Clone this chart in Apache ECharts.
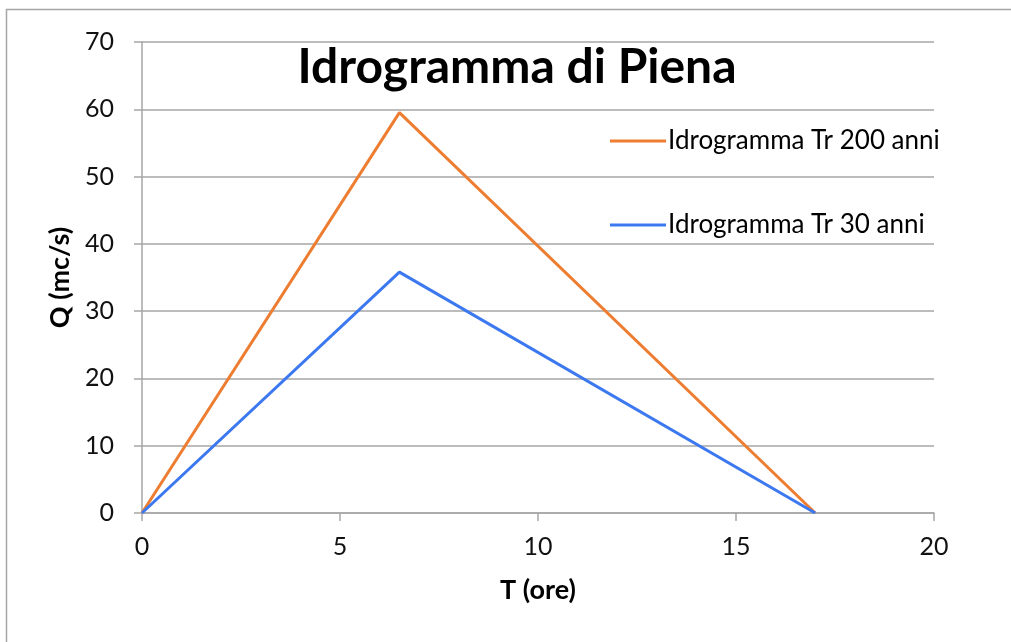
<!DOCTYPE html>
<html><head><meta charset="utf-8">
<script src="https://cdn.jsdelivr.net/npm/echarts@6/dist/echarts.min.js"></script>
<style>html,body{margin:0;padding:0;background:#fff}#c{width:1011px;height:642px}</style>
</head><body><div id="c"></div>
<script>
const tOre = [0, 6.5, 17];
const q200 = [0, 59.5, 0];
const q30 = [0, 35.8, 0];
const seriesNames = ['Idrogramma Tr 200 anni', 'Idrogramma Tr 30 anni'];
const titleText = 'Idrogramma di Piena';

const font = "Lato, 'Open Sans', sans-serif";
const chart = echarts.init(document.getElementById('c'));
chart.setOption({
  backgroundColor: '#fff',
  animation: false,
  graphic: [{type:'rect', shape:{x:6.5,y:9.5,width:1100,height:700}, style:{fill:'none', stroke:'#a6a6a6', lineWidth:1.5}, z:-1}],
  title: {text: titleText, left: 512, top: 39, textAlign: 'center',
    textStyle: {fontFamily: font, fontSize: 48, fontWeight: 'bold', color: '#000'}},
  legend: {orient:'vertical', left: 605, top: 123, itemGap: 58, itemWidth: 56, itemHeight: 3,
    textStyle:{fontFamily: font, fontSize: 26, color:'#000', padding:[0,0,0,-3]},
    data: seriesNames.map(n=>({name:n, icon:'rect'}))},
  grid: {left:142, right:77, top:42, bottom:129},
  xAxis: {type:'value', min:0, max:20, interval:5,
    name:'T (ore)', nameLocation:'middle', nameGap:64,
    nameTextStyle:{fontFamily:font, fontSize:27, fontWeight:'bold', color:'#000'},
    axisLine:{show:true, lineStyle:{color:'#a6a6a6', width:1.5}},
    axisTick:{show:true, inside:false, length:8, lineStyle:{color:'#a6a6a6', width:1.5}},
    axisLabel:{fontFamily:font, fontSize:25, color:'#111', margin:21},
    splitLine:{show:false}},
  yAxis: {type:'value', min:0, max:70, interval:10,
    name:'Q (mc/s)', nameLocation:'middle', nameGap:67, nameRotate:90,
    nameTextStyle:{fontFamily:font, fontSize:27, fontWeight:'bold', color:'#000'},
    axisLine:{show:true, lineStyle:{color:'#a6a6a6', width:1.5}},
    axisTick:{show:true, inside:false, length:8, lineStyle:{color:'#a6a6a6', width:1.5}},
    axisLabel:{fontFamily:font, fontSize:25, color:'#111', margin:28},
    splitLine:{show:true, lineStyle:{color:'#a6a6a6', width:1.5}}},
  series: [
    {name: seriesNames[0], type:'line', symbol:'none', data: tOre.map((t,i)=>[t,q200[i]]),
      lineStyle:{color:'#ED7D31', width:3}, itemStyle:{color:'#ED7D31'}},
    {name: seriesNames[1], type:'line', symbol:'none', data: tOre.map((t,i)=>[t,q30[i]]),
      lineStyle:{color:'#3C78F0', width:3}, itemStyle:{color:'#3C78F0'}}
  ]
});
</script></body></html>
